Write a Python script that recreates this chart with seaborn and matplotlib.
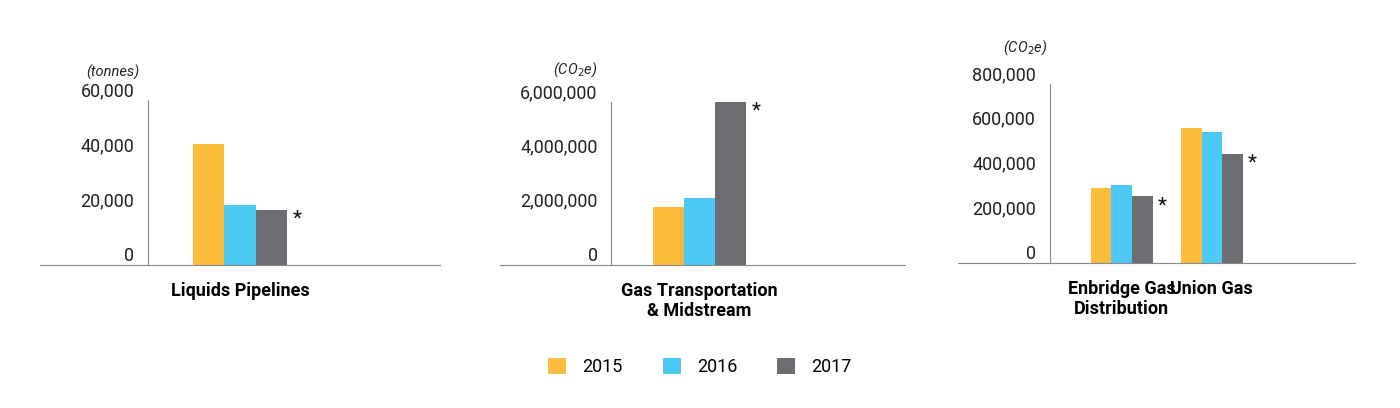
import matplotlib
matplotlib.use("Agg")
import matplotlib.pyplot as plt
import seaborn as sns
import pandas as pd
from matplotlib.ticker import FuncFormatter
from matplotlib.patches import Patch

years = ["2015", "2016", "2017"]
colors = ["#FDBE3D", "#4DC9F5", "#6D6E71"]

p1_cats = ["Liquids Pipelines"]
p1_vals = {"2015": [44000], "2016": [21800], "2017": [20000]}
p2_cats = ["Gas Transportation\n& Midstream"]
p2_vals = {"2015": [2150000], "2016": [2470000], "2017": [6000000]}
p3_cats = ["Enbridge Gas\nDistribution", "Union Gas"]
p3_vals = {"2015": [333000, 604000], "2016": [347000, 587000], "2017": [298000, 489000]}

p1_ticks = [0, 20000, 40000, 60000]
p2_ticks = [0, 2000000, 4000000, 6000000]
p3_ticks = [0, 200000, 400000, 600000, 800000]
units = ["(tonnes)", r"(CO$_2$e)", r"(CO$_2$e)"]

plt.rcParams["font.family"] = "Roboto"
W, H = 1400, 408
fig = plt.figure(figsize=(14, 4.08), dpi=100)

def make_df(cats, vals):
    rows = []
    for y in years:
        for c, v in zip(cats, vals[y]):
            rows.append({"cat": c, "year": y, "val": v})
    return pd.DataFrame(rows)

specs = [
    (40, 440, 265, 100, (-1.70, 1.70), -0.78, 60000, 0.8, p1_cats, p1_vals, p1_ticks),
    (500, 905, 265, 102, (-1.72, 1.77), -0.76, 6000000, 0.8, p2_cats, p2_vals, p2_ticks),
    (958, 1355, 263, 84, (-1.82, 2.59), -0.80, 800000, 0.69, p3_cats, p3_vals, p3_ticks),
]
unit_pos = [(113, 72), (575, 70), (1025, 48)]

for i, (x0, x1, yb, yt, xl, sx, ytop, w, cats, vals, ticks) in enumerate(specs):
    ax = fig.add_axes([x0 / W, 1 - yb / H, (x1 - x0) / W, (yb - yt) / H])
    df = make_df(cats, vals)
    sns.barplot(data=df, x="cat", y="val", hue="year", palette=colors,
                width=w, ax=ax, legend=False, saturation=1)
    ax.set_xlim(*xl)
    ax.set_ylim(0, ytop)
    ax.set_yticks(ticks)
    ax.yaxis.set_major_formatter(FuncFormatter(lambda v, p: f"{int(v):,}"))
    ax.spines["left"].set_position(("data", sx))
    for s in ["top", "right"]:
        ax.spines[s].set_visible(False)
    ax.spines["left"].set_color("#888888")
    ax.spines["bottom"].set_color("#888888")
    ax.tick_params(axis="y", length=0, pad=10, labelsize=13, labelcolor="#222222")
    ax.tick_params(axis="x", length=0, pad=12)
    for lab in ax.get_yticklabels():
        lab.set_va("bottom")
    for lab in ax.get_xticklabels():
        lab.set_fontweight("bold")
        lab.set_fontsize(13)
        lab.set_multialignment("center")
    ax.set_xlabel("")
    ax.set_ylabel("")
    for j, c in enumerate(cats):
        v = vals["2017"][j]
        xr = j + w / 2
        ax.text(xr + 0.05, v, "*", fontsize=15, va="top", ha="left", color="#111111")
    fig.text(unit_pos[i][0] / W, 1 - unit_pos[i][1] / H, units[i], fontsize=10.5,
             style="italic", ha="center", va="center", color="#222222")

handles = [Patch(facecolor=c, label=y) for c, y in zip(colors, years)]
fig.legend(handles=handles, loc="center", bbox_to_anchor=(700 / W, 1 - 367 / H),
           ncol=3, frameon=False, fontsize=13, handlelength=1, handleheight=1,
           columnspacing=2.2, handletextpad=0.9)

fig.savefig("out.png", dpi=100, facecolor="white")
